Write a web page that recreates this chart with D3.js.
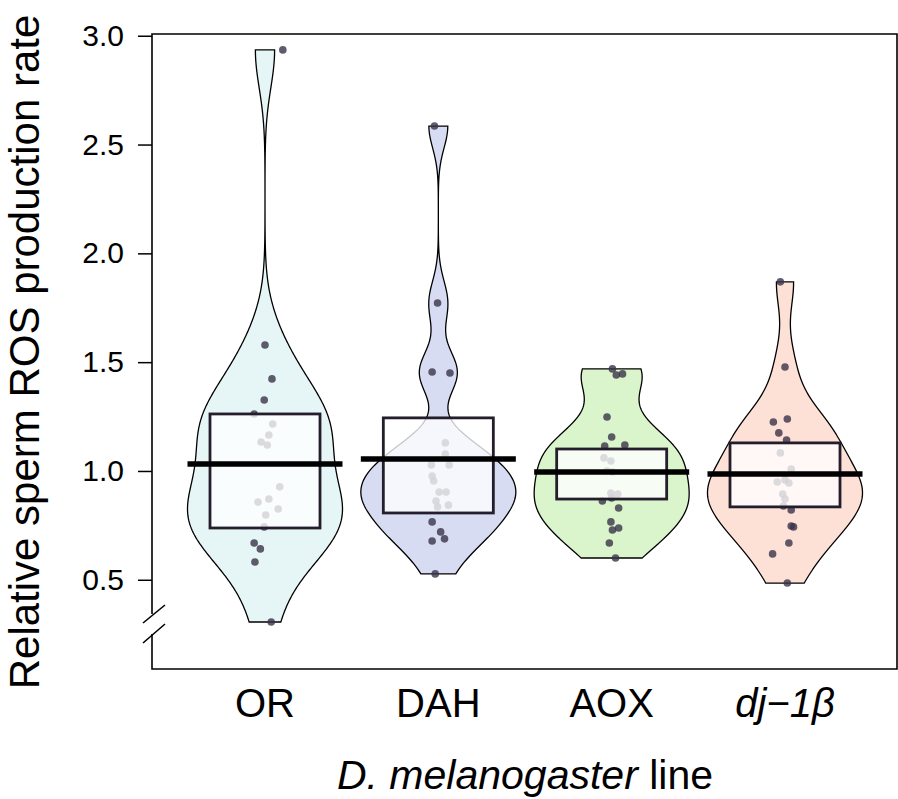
<!DOCTYPE html>
<html>
<head>
<meta charset="utf-8">
<script src="https://cdn.jsdelivr.net/npm/d3@7"></script>
<style>
body { margin: 0; background: #fff; }
text { font-family: "Liberation Sans", Arial, sans-serif; fill: #000; }
</style>
</head>
<body>
<div id="chart"></div>
<script>
// groups (fly lines)
var groups = ["OR", "DAH", "AOX", "dj-1b"];

// relative sperm ROS production rate, one value per male
var orValues  = [2.935, 1.579, 1.423, 1.326, 1.262, 1.216, 1.165, 1.133, 1.119, 0.927, 0.871, 0.857, 0.825, 0.798, 0.743, 0.669, 0.642, 0.582, 0.306];
var dahValues = [2.585, 1.772, 1.455, 1.450, 1.129, 1.078, 1.028, 1.028, 0.977, 0.954, 0.903, 0.903, 0.862, 0.843, 0.835, 0.766, 0.720, 0.688, 0.678, 0.527];
var aoxValues = [1.469, 1.441, 1.446, 1.248, 1.156, 1.115, 1.119, 1.060, 1.046, 1.000, 0.995, 0.899, 0.894, 0.876, 0.862, 0.830, 0.766, 0.738, 0.729, 0.669, 0.600];
var djValues  = [1.869, 1.478, 1.239, 1.225, 1.175, 1.142, 1.083, 1.009, 0.959, 0.949, 0.945, 0.894, 0.871, 0.839, 0.821, 0.747, 0.743, 0.669, 0.619, 0.485];

// point jitter, as a fraction of the bean half width
var orJitter  = [0.23, 0, 0.09, -0.01, -0.14, 0.10, 0.05, -0.05, 0.03, 0.19, 0.05, -0.09, 0.17, 0.01, -0.01, -0.14, -0.06, -0.13, 0.08];
var dahJitter = [-0.05, -0.01, -0.08, 0.15, 0.09, 0.09, -0.09, 0.14, -0.08, -0.06, 0.01, 0.10, -0.03, 0.13, -0.01, -0.08, 0.03, 0.08, -0.08, -0.04];
var aoxJitter = [0.01, 0.06, 0.14, -0.06, 0, -0.09, 0.17, -0.10, -0.01, -0.06, 0.01, -0.01, 0.08, 0, -0.12, 0.09, -0.01, 0.09, 0.01, -0.03, 0.05];
var djJitter  = [-0.06, 0, 0.03, -0.15, -0.08, 0.02, -0.06, 0.08, 0, -0.10, 0.05, -0.03, 0, -0.02, 0.08, 0.08, 0.11, 0.05, -0.16, 0.03];

// average line and inference band
var averages = [1.032, 1.055, 0.995, 0.986];
var bandLow  = [0.738, 0.807, 0.871, 0.835];
var bandHigh = [1.262, 1.244, 1.101, 1.129];

var yTicks = [0.5, 1.0, 1.5, 2.0, 2.5, 3.0];
var beanColours = ["#e6f6f6", "#d7dcf3", "#daf5cc", "#fde0d6"];

var allValues = [orValues, dahValues, aoxValues, djValues];
var allJitter = [orJitter, dahJitter, aoxJitter, djJitter];

var width = 898, height = 799;
var plot = {left: 152, right: 897, top: 34, bottom: 669};
var beanHalf = 77.5;

var svg = d3.select("#chart").append("svg")
	.attr("width", width)
	.attr("height", height);

var x = d3.scalePoint()
	.domain(groups)
	.range([265, 785]);

var y = d3.scaleLinear()
	.domain([0.09, 3.008])
	.range([plot.bottom, plot.top]);

// gaussian kernel density, R's bw.nrd0 bandwidth, cut at the data range
function density(values) {
	var sorted = values.slice().sort(d3.ascending);
	var n = sorted.length;
	var sd = d3.deviation(sorted);
	var iqr = d3.quantile(sorted, 0.75) - d3.quantile(sorted, 0.25);
	var bw = 0.9 * Math.min(sd, iqr / 1.34) * Math.pow(n, -0.2);
	var lo = sorted[0], hi = sorted[n - 1];
	var pts = [];
	for (var i = 0; i <= 300; i++) {
		var v = lo + (hi - lo) * i / 300;
		var s = 0;
		for (var j = 0; j < n; j++) {
			var u = (v - sorted[j]) / bw;
			s += Math.exp(-0.5 * u * u);
		}
		pts.push({v: v, d: s / (n * bw * Math.sqrt(2 * Math.PI))});
	}
	return pts;
}

// beans
groups.forEach(function(g, i) {
	var pts = density(allValues[i]);
	var maxD = d3.max(pts, function(p) { return p.d; });
	var w = d3.scaleLinear().domain([0, maxD]).range([0, beanHalf]);
	var cx = x(g);
	var area = d3.area()
		.x0(function(p) { return cx - w(p.d); })
		.x1(function(p) { return cx + w(p.d); })
		.y(function(p) { return y(p.v); });
	svg.append("path")
		.datum(pts)
		.attr("d", area)
		.attr("fill", beanColours[i])
		.attr("stroke", "#000")
		.attr("stroke-width", 1.3);
});

// points
groups.forEach(function(g, i) {
	svg.append("g")
		.selectAll("circle")
		.data(allValues[i])
		.enter()
		.append("circle")
		.attr("cx", function(d, k) { return x(g) + allJitter[i][k] * beanHalf; })
		.attr("cy", function(d) { return y(d); })
		.attr("r", 3.8)
		.attr("fill", "#3a3349")
		.attr("fill-opacity", 0.8);
});

// inference bands
svg.append("g")
	.selectAll("rect")
	.data(groups)
	.enter()
	.append("rect")
	.attr("x", function(g) { return x(g) - 55; })
	.attr("width", 110)
	.attr("y", function(g, i) { return y(bandHigh[i]); })
	.attr("height", function(g, i) { return y(bandLow[i]) - y(bandHigh[i]); })
	.attr("fill", "#fff")
	.attr("fill-opacity", 0.78)
	.attr("stroke", "#241e2c")
	.attr("stroke-width", 2.8);

// average lines
svg.append("g")
	.selectAll("line")
	.data(groups)
	.enter()
	.append("line")
	.attr("x1", function(g) { return x(g) - beanHalf; })
	.attr("x2", function(g) { return x(g) + beanHalf; })
	.attr("y1", function(g, i) { return y(averages[i]); })
	.attr("y2", function(g, i) { return y(averages[i]); })
	.attr("stroke", "#000")
	.attr("stroke-width", 5.5);

// frame with axis break on the left
var frame = svg.append("g")
	.attr("stroke", "#000")
	.attr("stroke-width", 1.6)
	.attr("fill", "none");
frame.append("path")
	.attr("d", "M" + plot.left + "," + 614 + "V" + plot.top + "H" + plot.right + "V" + plot.bottom + "H" + plot.left + "V" + 634);
frame.append("line").attr("x1", 143).attr("y1", 623).attr("x2", 165).attr("y2", 605);
frame.append("line").attr("x1", 143).attr("y1", 643).attr("x2", 165).attr("y2", 624);

// y axis
var yAxis = svg.append("g")
	.attr("transform", "translate(" + plot.left + ",0)")
	.call(d3.axisLeft(y)
		.tickValues(yTicks)
		.tickFormat(d3.format(".1f"))
		.tickSize(14)
		.tickPadding(14));
yAxis.select(".domain").remove();
yAxis.selectAll(".tick line").attr("stroke", "#000").attr("stroke-width", 1.5);
yAxis.selectAll(".tick text")
	.style("font-family", "'Liberation Sans', Arial, sans-serif")
	.style("font-size", "30px")
	.attr("fill", "#000");

// x labels
var xl = svg.append("g")
	.selectAll("text")
	.data(groups)
	.enter()
	.append("text")
	.attr("x", function(g) { return x(g); })
	.attr("y", 717)
	.attr("text-anchor", "middle")
	.style("font-size", "40px");
xl.each(function(g) {
	var t = d3.select(this);
	if (g === "dj-1b") {
		t.append("tspan").style("font-style", "italic").text("dj\u22121\u03b2");
	} else {
		t.text(g);
	}
});

// axis titles
var xt = svg.append("text")
	.attr("x", 525)
	.attr("y", 789)
	.attr("text-anchor", "middle")
	.style("font-size", "41px");
xt.append("tspan").style("font-style", "italic").text("D. melanogaster");
xt.append("tspan").text(" line");

svg.append("text")
	.attr("transform", "translate(39,352) rotate(-90)")
	.attr("text-anchor", "middle")
	.style("font-size", "42px")
	.text("Relative sperm ROS production rate");
</script>
</body>
</html>
